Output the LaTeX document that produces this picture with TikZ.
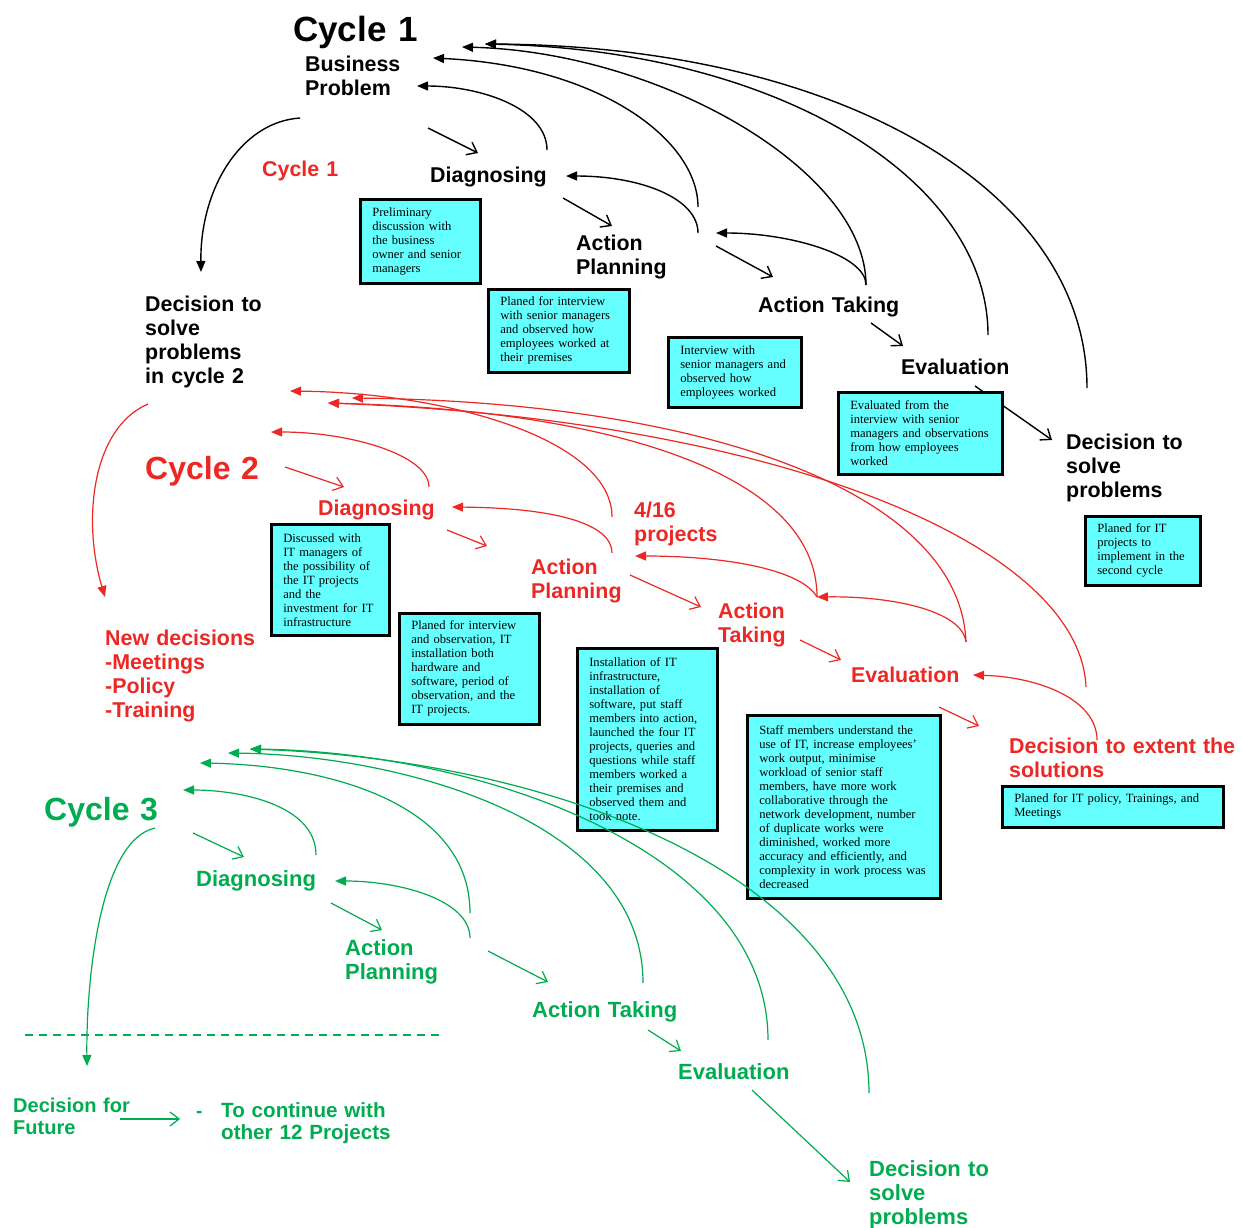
\documentclass[tikz,border=0pt]{standalone}
\usepackage{fontspec}
\setmainfont{Liberation Serif}
\setsansfont{Liberation Sans}
\usetikzlibrary{arrows.meta}
\definecolor{boxcyan}{RGB}{102,255,255}
\definecolor{cred}{RGB}{236,40,36}
\definecolor{cgreen}{RGB}{0,172,80}

\begin{document}
\begin{tikzpicture}[x=1pt,y=-1pt,
  hd/.style={font=\sffamily\bfseries\fontsize{21.4}{24}\selectfont, anchor=base west, inner sep=0pt, align=left, text width=300pt},
  hdg/.style={hd, font=\sffamily\bfseries\fontsize{22}{24}\selectfont},
  big/.style={hd, font=\sffamily\bfseries\fontsize{32}{36}\selectfont},
  note/.style={draw=black, line width=2.5pt, fill=boxcyan, anchor=north west, inner xsep=12pt, inner ysep=0pt, align=left, font=\fontsize{12.6}{14}\selectfont},
  fwd/.style={line width=1.4pt, -{Straight Barb[length=9pt,width=14pt]}},
  back/.style={line width=1.4pt, -{Triangle[length=11pt,width=9pt]}},
]
\useasboundingbox (0,0) rectangle (1242,1227);
\fill[white] (0,0) rectangle (1242,1227);

% ---------- endpoints of connectors ----------
% cycle 1
\coordinate (k0s) at (300,118);  \coordinate (k0e) at (201,272);
\coordinate (k1s) at (547,150);  \coordinate (k1e) at (417,86);
\coordinate (k2s) at (698,207);  \coordinate (k2e) at (433,58);
\coordinate (k3s) at (698,233);  \coordinate (k3e) at (566,176);
\coordinate (k4s) at (866,285);  \coordinate (k4e) at (716,233);
\coordinate (k5e) at (462,47);
\coordinate (k6s) at (988,335);  \coordinate (k6e) at (485,44);
\coordinate (k7s) at (1087,388);
\coordinate (f1s) at (428,128);  \coordinate (f1e) at (478,153);
\coordinate (f2s) at (563,198);  \coordinate (f2e) at (612,226);
\coordinate (f3s) at (716,246);  \coordinate (f3e) at (773,277);
\coordinate (f4s) at (871,323);  \coordinate (f4e) at (903,346);
\coordinate (f5s) at (975,386);  \coordinate (f5e) at (1052,440);
% cycle 2
\coordinate (r0s) at (148,404);  \coordinate (r0e) at (105,597);
\coordinate (r1s) at (429,487);  \coordinate (r1e) at (271,432);
\coordinate (r2s) at (612,553);  \coordinate (r2e) at (452,507);
\coordinate (r3s) at (612,517);  \coordinate (r3e) at (290,391);
\coordinate (r4s) at (817,597);  \coordinate (r4e) at (635,556);
\coordinate (r5s) at (966,642);
\coordinate (r6e) at (328,403);
\coordinate (r7e) at (352,398);
\coordinate (r8s) at (1086,687);
\coordinate (r9s) at (1097,740); \coordinate (r9e) at (973,675);
\coordinate (g1s) at (285,467);  \coordinate (g1e) at (344,487);
\coordinate (g2s) at (447,530);  \coordinate (g2e) at (487,546);
\coordinate (g3s) at (630,575);  \coordinate (g3e) at (701,607);
\coordinate (g4s) at (800,640);  \coordinate (g4e) at (841,660);
\coordinate (g5s) at (939,707);  \coordinate (g5e) at (979,726);
% cycle 3
\coordinate (t0s) at (155,828);  \coordinate (t0e) at (87,1066);
\coordinate (t1s) at (316,855);  \coordinate (t1e) at (183,790);
\coordinate (t2s) at (470,938);  \coordinate (t2e) at (335,881);
\coordinate (t3s) at (470,913);  \coordinate (t3e) at (200,763);
\coordinate (t4s) at (643,983);  \coordinate (t4e) at (228,753);
\coordinate (t5s) at (768,1040); \coordinate (t5e) at (250,749);
\coordinate (t6s) at (869,1093);
\coordinate (h1s) at (193,833);  \coordinate (h1e) at (244,857);
\coordinate (h2s) at (331,903);  \coordinate (h2e) at (382,930);
\coordinate (h3s) at (488,951);  \coordinate (h3e) at (548,982);
\coordinate (h4s) at (648,1030); \coordinate (h4e) at (681,1051);
\coordinate (h5s) at (752,1090); \coordinate (h5e) at (850,1182);
\coordinate (h6s) at (120,1119); \coordinate (h6e) at (180,1119);
\coordinate (dl1) at (25,1035);  \coordinate (dl2) at (445,1035);

% ---------- cycle 1 connectors ----------
\begin{scope}[black]
\draw[back] (k0s) .. controls (240,122) and (200,190) .. (k0e);
\draw[back] (k1s) .. controls (547,108) and (480,86) .. (k1e);
\draw[back] (k2s) .. controls (698,140) and (600,66) .. (k2e);
\draw[back] (k3s) .. controls (698,198) and (640,176) .. (k3e);
\draw[back] (k4s) .. controls (866,255) and (790,233) .. (k4e);
\draw[back] (k4s) .. controls (866,170) and (660,52) .. (k5e);
\draw[back] (k6s) .. controls (988,180) and (780,50) .. (k6e);
\draw[back] (k7s) .. controls (1087,190) and (840,46) .. (k6e);
\draw[fwd] (f1s) -- (f1e);
\draw[fwd] (f2s) -- (f2e);
\draw[fwd] (f3s) -- (f3e);
\draw[fwd] (f4s) -- (f4e);
\draw[fwd] (f5s) -- (f5e);
\end{scope}

% ---------- cycle 2 connectors ----------
\begin{scope}[cred]
\draw[back, line width=1.2pt] (r0s) .. controls (92,428) and (82,520) .. (r0e);
\draw[back, line width=1.2pt] (r1s) .. controls (429,455) and (350,432) .. (r1e);
\draw[back, line width=1.2pt] (r2s) .. controls (612,525) and (560,508) .. (r2e);
\draw[back, line width=1.2pt] (r3s) .. controls (612,440) and (450,393) .. (r3e);
\draw[back, line width=1.2pt] (r4s) .. controls (800,568) and (720,556) .. (r4e);
\draw[back, line width=1.2pt] (r5s) .. controls (962,610) and (890,596) .. (r4s);
\draw[back, line width=1.2pt] (r4s) .. controls (817,470) and (600,410) .. (r6e);
\draw[back, line width=1.2pt] (r5s) .. controls (960,490) and (700,402) .. (r7e);
\draw[back, line width=1.2pt] (r8s) .. controls (1080,545) and (780,420) .. (r6e);
\draw[back, line width=1.2pt] (r9s) .. controls (1097,700) and (1040,677) .. (r9e);
\draw[fwd, line width=1.2pt] (g1s) -- (g1e);
\draw[fwd, line width=1.2pt] (g2s) -- (g2e);
\draw[fwd, line width=1.2pt] (g3s) -- (g3e);
\draw[fwd, line width=1.2pt] (g4s) -- (g4e);
\draw[fwd, line width=1.2pt] (g5s) -- (g5e);
\end{scope}

% ---------- text boxes ----------
\node[note, minimum width=120, minimum height=84, text width=96] (n1) at (359,198)
  {Preliminary\\ discussion with\\ the business\\ owner and senior\\ managers};
\node[note, minimum width=141, minimum height=83, text width=117] (n2) at (487,288)
  {Planed for interview\\ with senior managers\\ and observed how\\ employees worked at\\ their premises};
\node[note, minimum width=133, minimum height=70, text width=109] (n3) at (667,336)
  {Interview with\\ senior managers and\\ observed how\\ employees worked};
\node[note, minimum width=164, minimum height=82, text width=140] (n4) at (837,391)
  {Evaluated from the\\ interview with senior\\ managers and observations\\ from how employees\\ worked};
\node[note, minimum width=115, minimum height=69, text width=91] (n5) at (1084,515)
  {Planed for IT\\ projects to\\ implement in the\\ second cycle};
\node[note, minimum width=118, minimum height=111, text width=94] (m1) at (270,523)
  {Discussed with\\ IT managers of\\ the possibility of\\ the IT projects\\ and the\\ investment for IT\\ infrastructure};
\node[note, minimum width=140, minimum height=111, text width=116] (m2) at (398,612)
  {Planed for interview\\ and observation, IT\\ installation both\\ hardware and\\ software, period of\\ observation, and the\\ IT projects.};
\node[note, minimum width=140, minimum height=182, text width=116] (m3) at (576,647)
  {Installation of IT\\ infrastructure,\\ installation of\\ software, put staff\\ members into action,\\ launched the four IT\\ projects, queries and\\ questions while staff\\ members worked a\\ their premises and\\ observed them and\\ took note.};
\node[note, minimum width=193, minimum height=183, text width=169] (m4) at (746,714)
  {Staff members understand the\\ use of IT, increase employees’\\ work output, minimise\\ workload of senior staff\\ members, have more work\\ collaborative through the\\ network development, number\\ of duplicate works were\\ diminished, worked more\\ accuracy and efficiently, and\\ complexity in work process was\\ decreased};
\node[note, minimum width=221, minimum height=41, text width=197] (m5) at (1001,785)
  {Planed for IT policy, Trainings, and\\ Meetings};

% ---------- cycle 3 connectors ----------
\begin{scope}[cgreen]
\draw[back, line width=1.2pt] (t0s) .. controls (100,840) and (86,980) .. (t0e);
\draw[back, line width=1.2pt] (t1s) .. controls (316,805) and (240,790) .. (t1e);
\draw[back, line width=1.2pt] (t2s) .. controls (470,900) and (400,881) .. (t2e);
\draw[back, line width=1.2pt] (t3s) .. controls (470,800) and (320,765) .. (t3e);
\draw[back, line width=1.2pt] (t4s) .. controls (643,820) and (400,755) .. (t4e);
\draw[back, line width=1.2pt] (t5s) .. controls (768,850) and (480,752) .. (t5e);
\draw[back, line width=1.2pt] (t6s) .. controls (869,880) and (560,760) .. (t5e);
\draw[fwd, line width=1.2pt] (h1s) -- (h1e);
\draw[fwd, line width=1.2pt] (h2s) -- (h2e);
\draw[fwd, line width=1.2pt] (h3s) -- (h3e);
\draw[fwd, line width=1.2pt] (h4s) -- (h4e);
\draw[fwd, line width=1.2pt] (h5s) -- (h5e);
\draw[fwd, line width=1.2pt] (h6s) -- (h6e);
\draw[line width=1.2pt, dash pattern=on 8pt off 6pt] (dl1) -- (dl2);
\end{scope}

% ---------- headings: cycle 1 ----------
\node[big, font=\sffamily\bfseries\fontsize{35}{38}\selectfont] (c1title) at (293,41) {Cycle 1};
\node[hd] (bp) at (305,71) {Business\\ Problem};
\node[hd, cred] (c1red) at (262,176) {Cycle 1};
\node[hd] (diag1) at (430,182) {Diagnosing};
\node[hd] (ap1) at (576,250) {Action\\ Planning};
\node[hd] (at1) at (758,312) {Action Taking};
\node[hd] (ev1) at (901,374) {Evaluation};
\node[hd] (dec1) at (1066,449) {Decision to\\ solve\\ problems};
\node[hd] (dec1b) at (145,311) {Decision to\\ solve\\ problems\\ in cycle 2};

% ---------- headings: cycle 2 ----------
\begin{scope}[cred]
\node[big] (c2title) at (145,479) {Cycle 2};
\node[hd] (diag2) at (318,515) {Diagnosing};
\node[hd] (proj) at (634,517) {4/16\\ projects};
\node[hd] (ap2) at (531,574) {Action\\ Planning};
\node[hd] (at2) at (718,618) {Action\\ Taking};
\node[hd] (ev2) at (851,682) {Evaluation};
\node[hd] (dec2) at (1009,753) {Decision to extent the\\ solutions};
\node[hd] (newdec) at (105,645) {New decisions\\ -Meetings\\ -Policy\\ -Training};
\end{scope}

% ---------- headings: cycle 3 ----------
\begin{scope}[cgreen]
\node[big] (c3title) at (44,820) {Cycle 3};
\node[hdg] (diag3) at (196,886) {Diagnosing};
\node[hdg] (ap3) at (345,955) {Action\\ Planning};
\node[hdg] (at3) at (532,1017) {Action Taking};
\node[hdg] (ev3) at (678,1079) {Evaluation};
\node[hdg] (dec3) at (869,1176) {Decision to\\ solve\\ problems};
\node[hd, font=\sffamily\bfseries\fontsize{20}{22}\selectfont] (decfut) at (13,1112) {Decision for\\ Future};
\node[hd, font=\sffamily\bfseries\fontsize{19}{22}\selectfont] (dashmark) at (196,1117) {-};
\node[hd, font=\sffamily\bfseries\fontsize{20.6}{22}\selectfont] (cont) at (221,1117) {To continue with\\ other 12 Projects};
\end{scope}
\end{tikzpicture}
\end{document}
